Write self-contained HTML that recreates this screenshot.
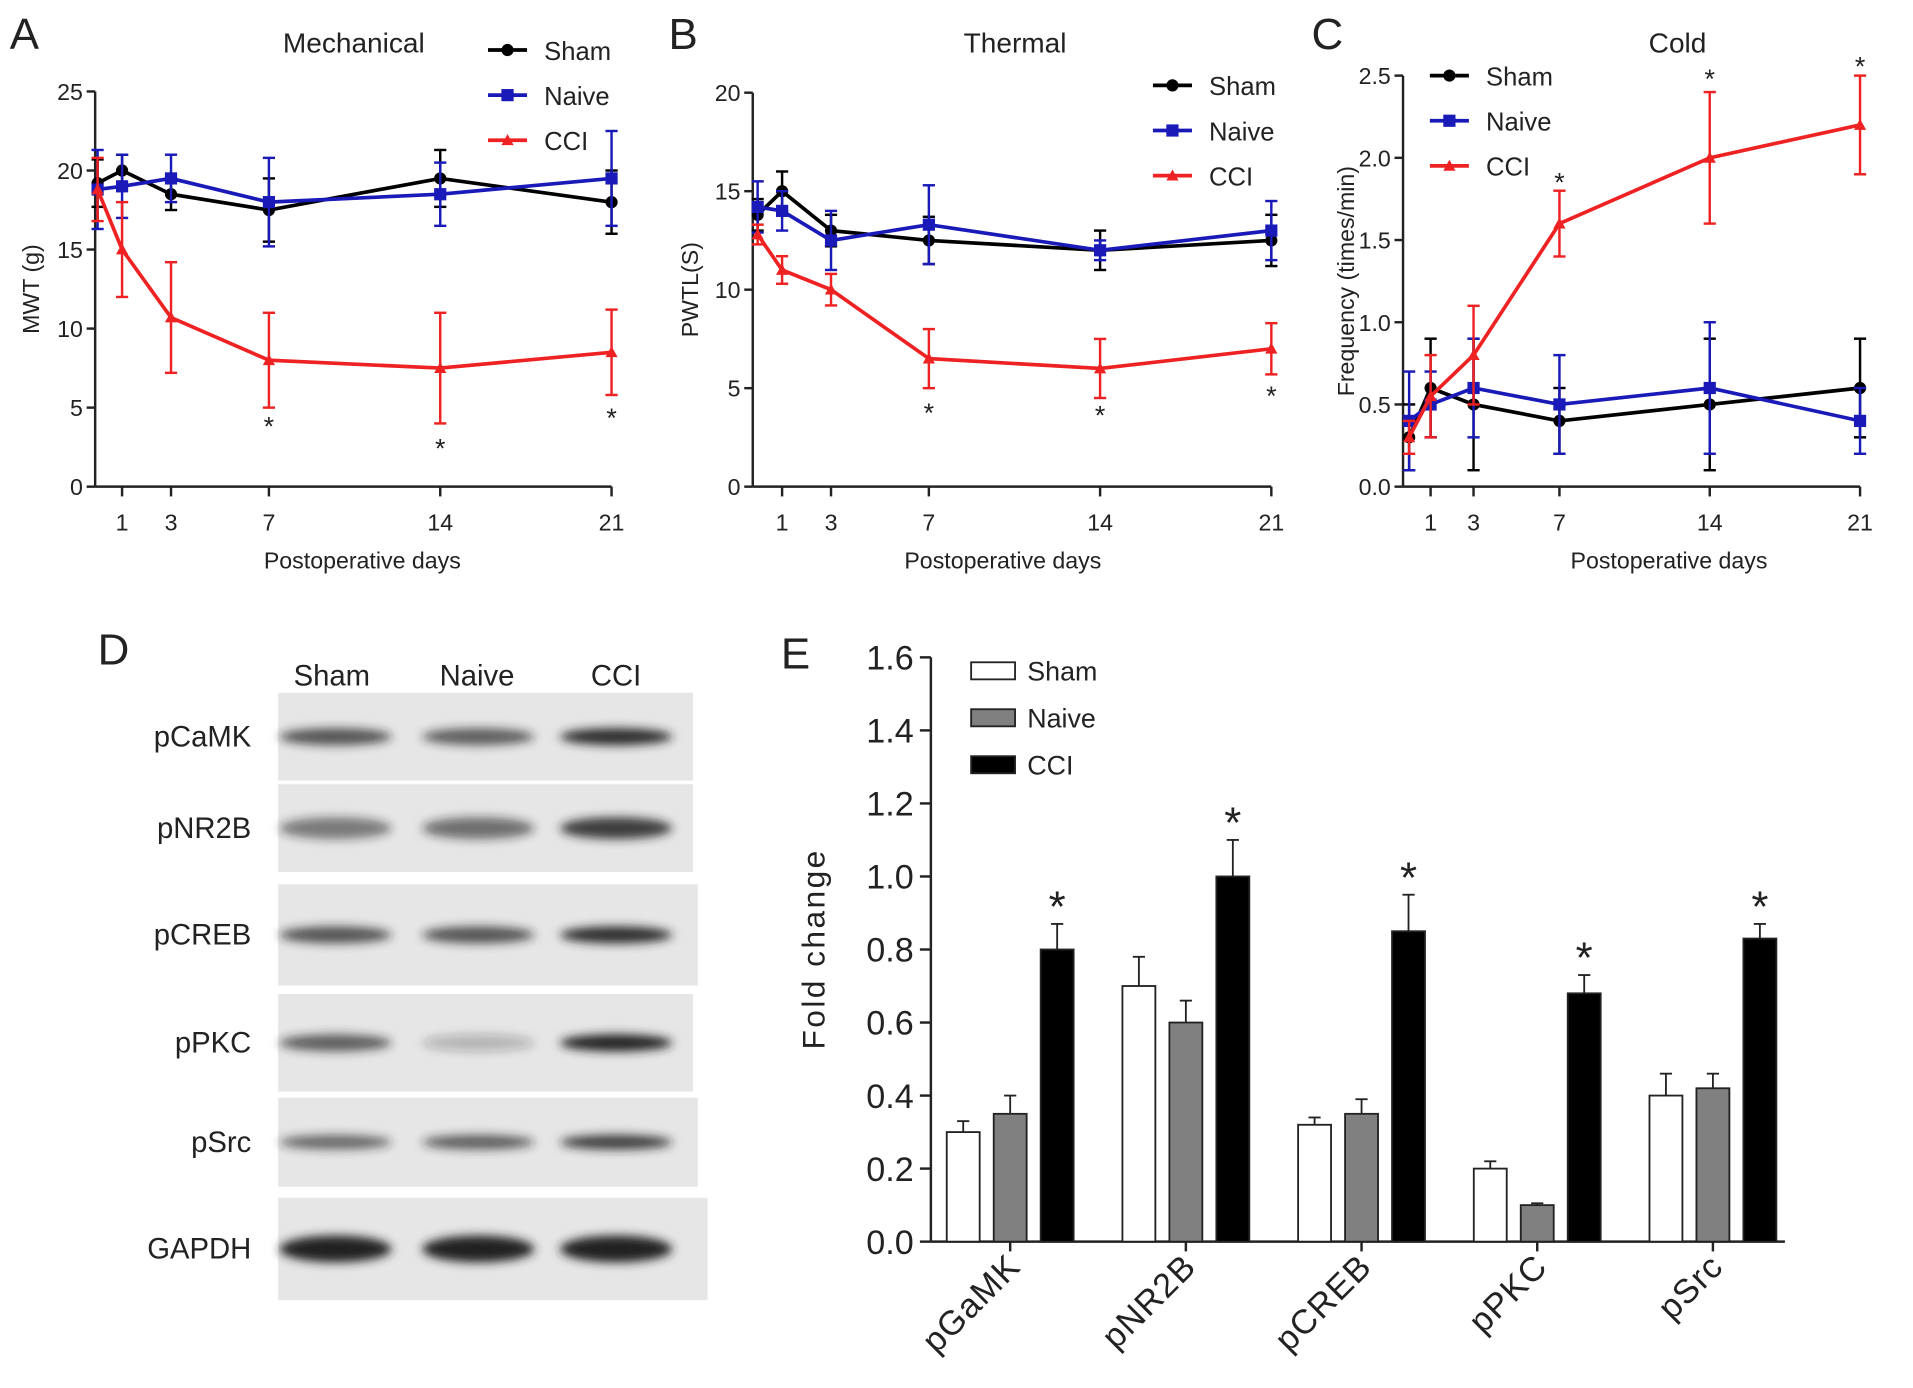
<!DOCTYPE html>
<html><head><meta charset="utf-8"><style>
html,body{margin:0;padding:0;background:#fff}
svg{display:block}
text{font-family:"Liberation Sans",Arial,sans-serif;fill:#222}
</style></head><body>
<svg id="fig" width="1913" height="1388" viewBox="0 0 1568 1138" preserveAspectRatio="none">
<defs>
<filter id="bl" x="-30%" y="-100%" width="160%" height="300%"><feGaussianBlur stdDeviation="4"/></filter>
<filter id="bl2" x="-10%" y="-10%" width="120%" height="120%"><feGaussianBlur stdDeviation="1.5"/></filter>
</defs>
</svg>
<script>
const NS='http://www.w3.org/2000/svg';
const svg=document.getElementById('fig');
function el(t,a,p){const e=document.createElementNS(NS,t);for(const k in a)e.setAttribute(k,a[k]);(p||svg).appendChild(e);return e;}
function tx(x,y,s,size,anchor,p,extra){const e=el('text',Object.assign({x:x,y:y,'font-size':size,'text-anchor':anchor||'start'},extra||{}),p);e.textContent=s;return e;}

// ---------- data ----------
const days=[0,1,3,7,14,21];
const dayTicks=[1,3,7,14,21];
const mechSham=[19.2,20,18.5,17.5,19.5,18];
const mechShamErr=[1.5,1,1,2,1.8,2];
const mechNaive=[18.8,19,19.5,18,18.5,19.5];
const mechNaiveErr=[2.5,2,1.5,2.8,2,3];
const mechCCI=[18.8,15,10.7,8,7.5,8.5];
const mechCCIErr=[2,3,3.5,3,3.5,2.7];
const thSham=[13.8,15,13,12.5,12,12.5];
const thShamErr=[0.8,1,0.8,1.2,1,1.3];
const thNaive=[14.2,14,12.5,13.3,12,13];
const thNaiveErr=[1.3,1,1.5,2,0.5,1.5];
const thCCI=[12.8,11,10,6.5,6,7];
const thCCIErr=[0.5,0.7,0.8,1.5,1.5,1.3];
const coSham=[0.3,0.6,0.5,0.4,0.5,0.6];
const coShamErr=[0.2,0.3,0.4,0.2,0.4,0.3];
const coNaive=[0.4,0.5,0.6,0.5,0.6,0.4];
const coNaiveErr=[0.3,0.2,0.3,0.3,0.4,0.2];
const coCCI=[0.3,0.55,0.8,1.6,2.0,2.2];
const coCCIErr=[0.1,0.25,0.3,0.2,0.4,0.3];
const barCats=['pGaMK','pNR2B','pCREB','pPKC','pSrc'];
const barSham=[0.3,0.7,0.32,0.2,0.4];
const barShamErr=[0.03,0.08,0.02,0.02,0.06];
const barNaive=[0.35,0.6,0.35,0.1,0.42];
const barNaiveErr=[0.05,0.06,0.04,0.005,0.04];
const barCCI=[0.8,1.0,0.85,0.68,0.83];
const barCCIErr=[0.07,0.1,0.1,0.05,0.04];
const barTicks=[0,0.2,0.4,0.6,0.8,1.0,1.2,1.4,1.6];

function linePanel(o){
  const g=el('g',{},svg);
  
  
  const X=d=>o.x0+d*o.dx, Y=v=>o.y0-v*o.dy;
  // axes
  el('line',{x1:o.axL,y1:o.y0,x2:o.axL,y2:Y(o.yMax),stroke:'#222','stroke-width':2},g);
  el('line',{x1:o.axL,y1:o.y0,x2:X(21),y2:o.y0,stroke:'#222','stroke-width':2},g);
  o.yTicks.forEach((v,i)=>{el('line',{x1:o.axL-7,y1:Y(v),x2:o.axL,y2:Y(v),stroke:'#222','stroke-width':2},g);
    const t=tx(o.axL-10,Y(v)+7,o.yLabels[i],19,'end',g);});
  dayTicks.forEach(d=>{el('line',{x1:X(d),y1:o.y0,x2:X(d),y2:o.y0+8,stroke:'#222','stroke-width':2},g);
    const t=tx(X(d),o.y0+36,String(d),19,'middle',g);});
  const xt=tx(o.xTitleX,o.y0+67,'Postoperative days',19,'middle',g);
  
  const yt=tx(0,0,o.yTitle,19,'middle',g,{transform:`translate(${o.yTitleX},${(o.y0+Y(o.yMax))/2}) rotate(-90)`});
  
  const tt=tx(o.titleX,o.titleY,o.title,23,'middle',g);
  
  const pl=tx(o.letterX,40,o.letter,36,'start',g);
  
  o.series.forEach(s=>{
    const sg=el('g',{},g);
    
    
    s.vals.forEach((v,i)=>{const x=X(days[i]);const e=s.err[i];
      el('line',{x1:x,y1:Y(v-e),x2:x,y2:Y(v+e),stroke:s.c,'stroke-width':2},sg);
      el('line',{x1:x-5,y1:Y(v-e),x2:x+5,y2:Y(v-e),stroke:s.c,'stroke-width':2},sg);
      el('line',{x1:x-5,y1:Y(v+e),x2:x+5,y2:Y(v+e),stroke:s.c,'stroke-width':2},sg);});
    el('polyline',{points:s.vals.map((v,i)=>X(days[i])+','+Y(v)).join(' '),fill:'none',stroke:s.c,'stroke-width':3},sg);
    s.vals.forEach((v,i)=>{const x=X(days[i]),y=Y(v);
      let m;
      if(s.key==='sham')m=el('circle',{cx:x,cy:y,r:5,fill:s.c},sg);
      else if(s.key==='naive')m=el('rect',{x:x-5,y:y-5,width:10,height:10,fill:s.c},sg);
      else m=el('path',{d:`M${x-5},${y+4}L${x+5},${y+4}L${x},${y-5}Z`,fill:s.c},sg);
      });
  });
  o.stars.forEach(st=>{const t=tx(X(st[0]),st[1],'*',22,'middle',g);});
  const cols=['#000','#1a1ab8','#ee2222'],names=['Sham','Naive','CCI'];
  names.forEach((n,i)=>{const lg=el('g',{},g);
    const y=o.legY+i*37;el('line',{x1:o.legX,y1:y,x2:o.legX+32,y2:y,stroke:cols[i],'stroke-width':3},lg);
    if(i==0)el('circle',{cx:o.legX+16,cy:y,r:5,fill:cols[i]},lg);
    else if(i==1)el('rect',{x:o.legX+11,y:y-5,width:10,height:10,fill:cols[i]},lg);
    else el('path',{d:`M${o.legX+11},${y+4}L${o.legX+21},${y+4}L${o.legX+16},${y-5}Z`,fill:cols[i]},lg);
    tx(o.legX+46,y+8,n,21,'start',lg);});
}
const C=['#000','#1a1ab8','#ee2222'];
linePanel({name:'panel-a-mechanical',letter:'A',letterX:8,title:'Mechanical',titleX:290,titleY:43,x0:80,dx:20.06,y0:399,dy:12.96,yMax:25,axL:78,
 yTicks:[0,5,10,15,20,25],yLabels:['0','5','10','15','20','25'],yTitle:'MWT (g)',yTitleX:32,xTitleX:297,legX:400,legY:41,
 series:[{key:'sham',vals:mechSham,err:mechShamErr,c:C[0]},{key:'naive',vals:mechNaive,err:mechNaiveErr,c:C[1]},{key:'cci',vals:mechCCI,err:mechCCIErr,c:C[2]}],
 stars:[[7,357],[14,375],[21,350]]});
linePanel({name:'panel-b-thermal',letter:'B',letterX:548,title:'Thermal',titleX:832,titleY:43,x0:621,dx:20.05,y0:399,dy:16.15,yMax:20,axL:617,
 yTicks:[0,5,10,15,20],yLabels:['0','5','10','15','20'],yTitle:'PWTL(S)',yTitleX:572,xTitleX:822,legX:945,legY:70,
 series:[{key:'sham',vals:thSham,err:thShamErr,c:C[0]},{key:'naive',vals:thNaive,err:thNaiveErr,c:C[1]},{key:'cci',vals:thCCI,err:thCCIErr,c:C[2]}],
 stars:[[7,346],[14,348],[21,332]]});
linePanel({name:'panel-c-cold',letter:'C',letterX:1075,title:'Cold',titleX:1375,titleY:43,x0:1155,dx:17.6,y0:399,dy:134.8,yMax:2.5,axL:1150,
 yTicks:[0,0.5,1,1.5,2,2.5],yLabels:['0.0','0.5','1.0','1.5','2.0','2.5'],yTitle:'Frequency (times/min)',yTitleX:1110,xTitleX:1368,legX:1172,legY:62,
 series:[{key:'sham',vals:coSham,err:coShamErr,c:C[0]},{key:'naive',vals:coNaive,err:coNaiveErr,c:C[1]},{key:'cci',vals:coCCI,err:coCCIErr,c:C[2]}],
 stars:[[7,157],[14,72],[21,62]]});

// ---------- panel D western blot ----------
(function(){
 const g=el('g',{},svg);
 const l=tx(80,545,'D',36,'start',g);
 [['Sham',272],['Naive',391],['CCI',505]].forEach(a=>{const t=tx(a[1],562,a[0],24,'middle',g);});
 const rows=[['pCaMK',568,640,568,[0.75,0.7,0.95],14],['pNR2B',643,715,568,[0.55,0.6,0.85],18],['pCREB',725,808,572,[0.75,0.75,0.95],14],
  ['pPKC',815,895,568,[0.7,0.25,1.0],14],['pSrc',900,973,572,[0.65,0.7,0.85],12],['GAPDH',982,1066,580,[1,1,1],22]];
 rows.forEach(r=>{const rg=el('g',{},g);
  el('rect',{x:228,y:r[1],width:r[3]-228,height:r[2]-r[1],fill:'#e6e6e6'},rg);
  const cy=(r[1]+r[2])/2;
  [275,392,505].forEach((cx,i)=>el('ellipse',{cx:cx,cy:cy,rx:46,ry:r[5]/2,fill:'#222','fill-opacity':r[4][i],filter:'url(#bl)'},rg));
  tx(206,cy+8,r[0],24,'end',rg);});
})();

// ---------- panel E bar chart ----------
(function(){
 const g=el('g',{},svg);
 const y0=1018,dy=299.4,axL=763,axR=1463,Y=v=>y0-v*dy;
 const l=tx(640,548,'E',36,'start',g);
 el('line',{x1:axL,y1:y0,x2:axL,y2:Y(1.6),stroke:'#222','stroke-width':2},g);
 el('line',{x1:axL,y1:y0,x2:axR,y2:y0,stroke:'#222','stroke-width':2},g);
 barTicks.forEach(v=>{el('line',{x1:axL-9,y1:Y(v),x2:axL,y2:Y(v),stroke:'#222','stroke-width':2},g);
  const t=tx(axL-14,Y(v)+10,v.toFixed(1),28,'end',g);});
 const yt=tx(0,0,'Fold change',26,'middle',g,{transform:'translate(676,778) rotate(-90)','letter-spacing':'2'});
 
 const series=[['sham',barSham,barShamErr,'#fff'],['naive',barNaive,barNaiveErr,'#808080'],['cci',barCCI,barCCIErr,'#000']];
 barCats.forEach((c,i)=>{const gx=776+i*144;
  series.forEach((s,j)=>{const x=gx+j*38.5,w=27,v=s[1][i],e=s[2][i];
   const b=el('rect',{x:x,y:Y(v),width:w,height:y0-Y(v),fill:s[3],stroke:'#222','stroke-width':1.5},g);
   
   el('line',{x1:x+w/2,y1:Y(v),x2:x+w/2,y2:Y(v+e),stroke:'#222','stroke-width':1.5},g);
   el('line',{x1:x+w/2-5,y1:Y(v+e),x2:x+w/2+5,y2:Y(v+e),stroke:'#222','stroke-width':1.5},g);
   if(j===2){const st=tx(x+w/2,Y(v+e)-2,'*',36,'middle',g);}
  });
  el('line',{x1:gx+52,y1:y0,x2:gx+52,y2:y0+8,stroke:'#222','stroke-width':2},g);
  const t=tx(0,0,c,28,'end',g,{transform:`translate(${gx+62},${y0+22}) rotate(-45)`,'letter-spacing':'1'});
  
 });
 [['Sham','#fff'],['Naive','#808080'],['CCI','#000']].forEach((a,i)=>{const lg=el('g',{},g);
  const y=543+i*38.5;el('rect',{x:796,y:y,width:36,height:14,fill:a[1],stroke:'#222','stroke-width':1.5},lg);
  tx(842,y+15,a[0],22,'start',lg);});
})();
</script>
</body></html>
